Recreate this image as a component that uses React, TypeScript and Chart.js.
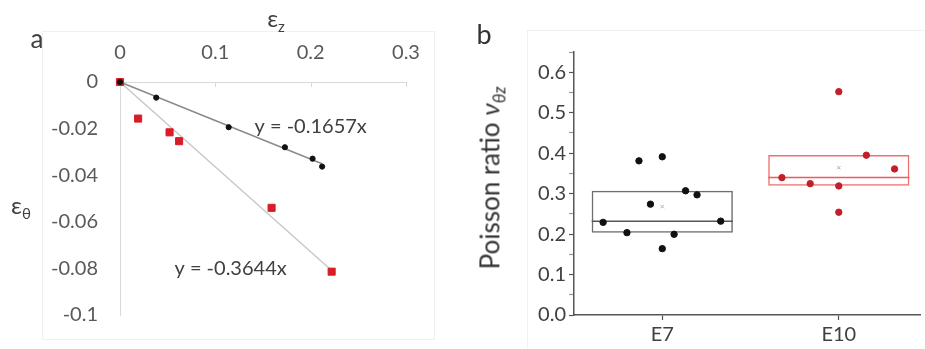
import React, { useEffect, useRef } from 'react';
import { Chart, registerables } from 'chart.js';

Chart.register(...registerables);

// ---------- Panel a data ----------
const blackStrainZ = [0, 0.038, 0.114, 0.173, 0.202, 0.212];
const blackStrainTheta = [0, -0.0067, -0.0194, -0.028, -0.0329, -0.0363];
const redStrainZ = [0, 0.019, 0.052, 0.062, 0.159, 0.222];
const redStrainTheta = [0, -0.0157, -0.0216, -0.0254, -0.054, -0.0814];
const blackFitZ = [0, 0.212];
const blackFitTheta = [0, -0.0351];
const redFitZ = [0, 0.222];
const redFitTheta = [0, -0.0809];
const fitEquations = ['y = -0.1657x', 'y = -0.3644x'];
const strainZTicks = [0, 0.1, 0.2, 0.3];
const strainThetaTicks = [0, -0.02, -0.04, -0.06, -0.08, -0.1];

// ---------- Panel b data ----------
const groups = ['E7', 'E10'];
const e7Values = [0.229, 0.2035, 0.381, 0.274, 0.391, 0.164, 0.1995, 0.307, 0.297, 0.232];
const e7Jitter = [-0.335, -0.2, -0.132, -0.067, 0, 0, 0.067, 0.132, 0.197, 0.331];
const e10Values = [0.3395, 0.3246, 0.552, 0.319, 0.254, 0.395, 0.361];
const e10Jitter = [-0.322, -0.162, 0, 0, 0, 0.156, 0.316];
const boxQ1 = [0.2035, 0.3197];
const boxMedian = [0.232, 0.34];
const boxQ3 = [0.307, 0.3955];
const boxMean = [0.268, 0.364];

// ---------- styles ----------
const FONT = 'Lato, "Open Sans", sans-serif';
const BOX_HALF = 0.4;
const boxColors = ['#6e6e6e', '#f07070'];
const medianColors = ['#555555', '#ef5a5a'];
const fitLabelAnchors = [
  [0.2, -0.0191],
  [0.116, -0.08],
];

const fmt = (v: number) => String(Math.round(v * 100) / 100);

const panelAPlugin = {
  id: 'panelAExtras',
  afterDatasetsDraw(chart: any) {
    const { ctx, scales } = chart;
    const x = scales.x;
    const y = scales.y;
    ctx.save();
    ctx.strokeStyle = '#d9d9d9';
    ctx.lineWidth = 1;
    const y0 = y.getPixelForValue(0);
    strainZTicks.forEach((v) => {
      if (v === 0) return;
      const px = Math.round(x.getPixelForValue(v)) + 0.5;
      ctx.beginPath();
      ctx.moveTo(px, y0);
      ctx.lineTo(px, y0 + 5);
      ctx.stroke();
    });
    ctx.fillStyle = '#404040';
    ctx.font = '20px ' + FONT;
    ctx.textAlign = 'center';
    ctx.textBaseline = 'middle';
    fitEquations.forEach((t, i) => {
      ctx.fillText(t, x.getPixelForValue(fitLabelAnchors[i][0]), y.getPixelForValue(fitLabelAnchors[i][1]));
    });
    ctx.restore();
  },
};

function PanelA() {
  const ref = useRef<HTMLCanvasElement>(null);
  useEffect(() => {
    const chart = new Chart(ref.current as HTMLCanvasElement, {
      type: 'scatter',
      data: {
        datasets: [
          {
            label: 'black',
            data: blackStrainZ.map((x, i) => ({ x, y: blackStrainTheta[i] })),
            backgroundColor: '#111111',
            borderColor: '#111111',
            pointRadius: 2.6,
            pointStyle: 'circle',
          },
          {
            label: 'red',
            data: redStrainZ.map((x, i) => ({ x, y: redStrainTheta[i] })),
            backgroundColor: '#d91c28',
            borderColor: '#d91c28',
            pointRadius: 5,
            pointStyle: 'rect',
          },
          {
            type: 'line',
            label: 'blackFit',
            data: blackFitZ.map((x, i) => ({ x, y: blackFitTheta[i] })),
            borderColor: '#8a8a8a',
            borderWidth: 1.5,
            pointRadius: 0,
            showLine: true,
          },
          {
            type: 'line',
            label: 'redFit',
            data: redFitZ.map((x, i) => ({ x, y: redFitTheta[i] })),
            borderColor: '#c8c8c8',
            borderWidth: 1.5,
            pointRadius: 0,
            showLine: true,
          },
        ] as any,
      },
      options: {
        animation: false,
        responsive: false,
        clip: false as any,
        layout: { padding: { left: 0, right: 54, top: 0, bottom: 32 } },
        plugins: { legend: { display: false }, tooltip: { enabled: false } },
        scales: {
          x: {
            type: 'linear',
            position: 'top',
            min: 0,
            max: 0.3,
            afterBuildTicks: (s: any) => {
              s.ticks = strainZTicks.map((value) => ({ value }));
            },
            afterFit: (s: any) => {
              s.height = 82;
            },
            grid: { drawOnChartArea: false, drawTicks: false },
            border: { color: '#d9d9d9', width: 1 },
            ticks: {
              font: { family: FONT, size: 20 },
              color: '#595959',
              padding: 17,
              maxRotation: 0,
              callback: (v: any) => fmt(Number(v)),
            },
          },
          y: {
            type: 'linear',
            min: -0.1,
            max: 0,
            afterBuildTicks: (s: any) => {
              s.ticks = strainThetaTicks.map((value) => ({ value }));
            },
            afterFit: (s: any) => {
              s.width = 120;
            },
            grid: { drawOnChartArea: false, drawTicks: false },
            border: { color: '#d9d9d9', width: 1 },
            ticks: {
              font: { family: FONT, size: 20 },
              color: '#595959',
              padding: 22,
              callback: (v: any) => fmt(Number(v)),
            },
          },
        },
      } as any,
      plugins: [panelAPlugin],
    });
    return () => chart.destroy();
  }, []);
  return <canvas ref={ref} width={460} height={349} style={{ position: 'absolute', left: 0, top: 0 }} />;
}

function PanelB() {
  const ref = useRef<HTMLCanvasElement>(null);
  useEffect(() => {
    const medianSets = groups.map((g, i) => ({
      type: 'line',
      label: g + ' median',
      data: [
        { x: i + 1 - BOX_HALF, y: boxMedian[i] },
        { x: i + 1 + BOX_HALF, y: boxMedian[i] },
      ],
      borderColor: medianColors[i],
      borderWidth: 1.5,
      pointRadius: 0,
      showLine: true,
    }));
    const chart = new Chart(ref.current as HTMLCanvasElement, {
      type: 'scatter',
      data: {
        datasets: [
          {
            label: 'E7',
            data: e7Values.map((y, i) => ({ x: 1 + e7Jitter[i], y })),
            backgroundColor: '#111111',
            borderColor: '#111111',
            pointRadius: 3.2,
          },
          {
            label: 'E10',
            data: e10Values.map((y, i) => ({ x: 2 + e10Jitter[i], y })),
            backgroundColor: '#c21f2b',
            borderColor: '#c21f2b',
            pointRadius: 3.2,
          },
          {
            label: 'mean',
            data: boxMean.map((y, i) => ({ x: i + 1, y })),
            backgroundColor: '#b0b0b0',
            borderColor: '#b0b0b0',
            pointStyle: 'crossRot',
            borderWidth: 1,
            pointRadius: 2.5,
          },
          ...medianSets,
          {
            type: 'bar',
            label: 'box',
            data: groups.map((g, i) => ({ x: i + 1, y: [boxQ1[i], boxQ3[i]] })),
            backgroundColor: 'rgba(0,0,0,0)',
            borderColor: boxColors,
            borderWidth: 1.5,
            borderSkipped: false,
            barPercentage: 1,
            categoryPercentage: 2 * BOX_HALF,
          },
        ] as any,
      },
      options: {
        animation: false,
        responsive: false,
        clip: false as any,
        layout: { padding: { left: 0, right: 0, top: 52, bottom: 0 } },
        plugins: { legend: { display: false }, tooltip: { enabled: false } },
        scales: {
          x: {
            type: 'linear',
            min: 0.5,
            max: 2.46,
            offset: false,
            afterBuildTicks: (s: any) => {
              s.ticks = groups.map((g, i) => ({ value: i + 1 }));
            },
            afterFit: (s: any) => {
              s.height = 34;
            },
            grid: { offset: false, drawOnChartArea: false, drawTicks: true, tickLength: 5, tickColor: '#555', tickWidth: 1.2 },
            border: { color: '#555555', width: 1.5 },
            ticks: {
              font: { family: FONT, size: 20 },
              color: '#404040',
              padding: 3,
              maxRotation: 0,
              callback: (v: any) => groups[Math.round(Number(v)) - 1],
            },
          },
          y: {
            type: 'linear',
            min: 0,
            max: 0.65,
            afterBuildTicks: (s: any) => {
              const t = [];
              for (let k = 0; k <= 13; k++) t.push({ value: Math.round(k * 5) / 100 });
              s.ticks = t;
            },
            afterFit: (s: any) => {
              s.width = 114;
            },
            grid: {
              drawOnChartArea: false,
              drawTicks: true,
              tickLength: 5,
              tickColor: (c: any) => (Math.round(c.tick.value * 100) % 10 === 0 ? '#555555' : '#9a9a9a'),
              tickWidth: 1.2,
            },
            border: { color: '#555555', width: 1.5 },
            ticks: {
              font: { family: FONT, size: 20 },
              color: '#404040',
              padding: 3,
              autoSkip: false,
              callback: (v: any) => {
                const n = Number(v);
                return Math.round(n * 100) % 10 === 0 ? n.toFixed(1) : '';
              },
            },
          },
        },
      } as any,
    });
    return () => chart.destroy();
  }, []);
  return <canvas ref={ref} width={465} height={349} style={{ position: 'absolute', left: 460, top: 0 }} />;
}

const lbl = (left: number, top: number, size: number, extra: any = {}) => ({
  position: 'absolute' as const,
  left,
  top,
  transform: 'translate(-50%, -50%)',
  fontFamily: FONT,
  fontSize: size,
  color: '#404040',
  whiteSpace: 'nowrap' as const,
  lineHeight: 1,
  ...extra,
});

export default function App() {
  return (
    <div style={{ position: 'absolute', left: 0, top: 0, width: 925, height: 349, background: '#fff', overflow: 'hidden' }}>
      <div style={{ position: 'absolute', left: 42, top: 31, width: 391, height: 307, border: '1px solid #f0f0f0' }} />
      <div style={{ position: 'absolute', left: 527, top: 30, width: 420, height: 330, border: '1px solid #f0f0f0' }} />
      <PanelA />
      <PanelB />
      <div style={lbl(37, 38, 26)}>a</div>
      <div style={lbl(484, 33, 27, { color: '#333' })}>b</div>
      <div style={lbl(276, 20, 24)}>
        ε<sub style={{ fontSize: 15 }}>z</sub>
      </div>
      <div style={lbl(21, 207, 24)}>
        ε<sub style={{ fontSize: 15 }}>θ</sub>
      </div>
      <div style={lbl(492, 178, 26, { transform: 'translate(-50%, -50%) rotate(-90deg)', color: '#333' })}>
        Poisson ratio{' '}
        <i>
          ν<sub style={{ fontSize: 17 }}>θz</sub>
        </i>
      </div>
    </div>
  );
}
